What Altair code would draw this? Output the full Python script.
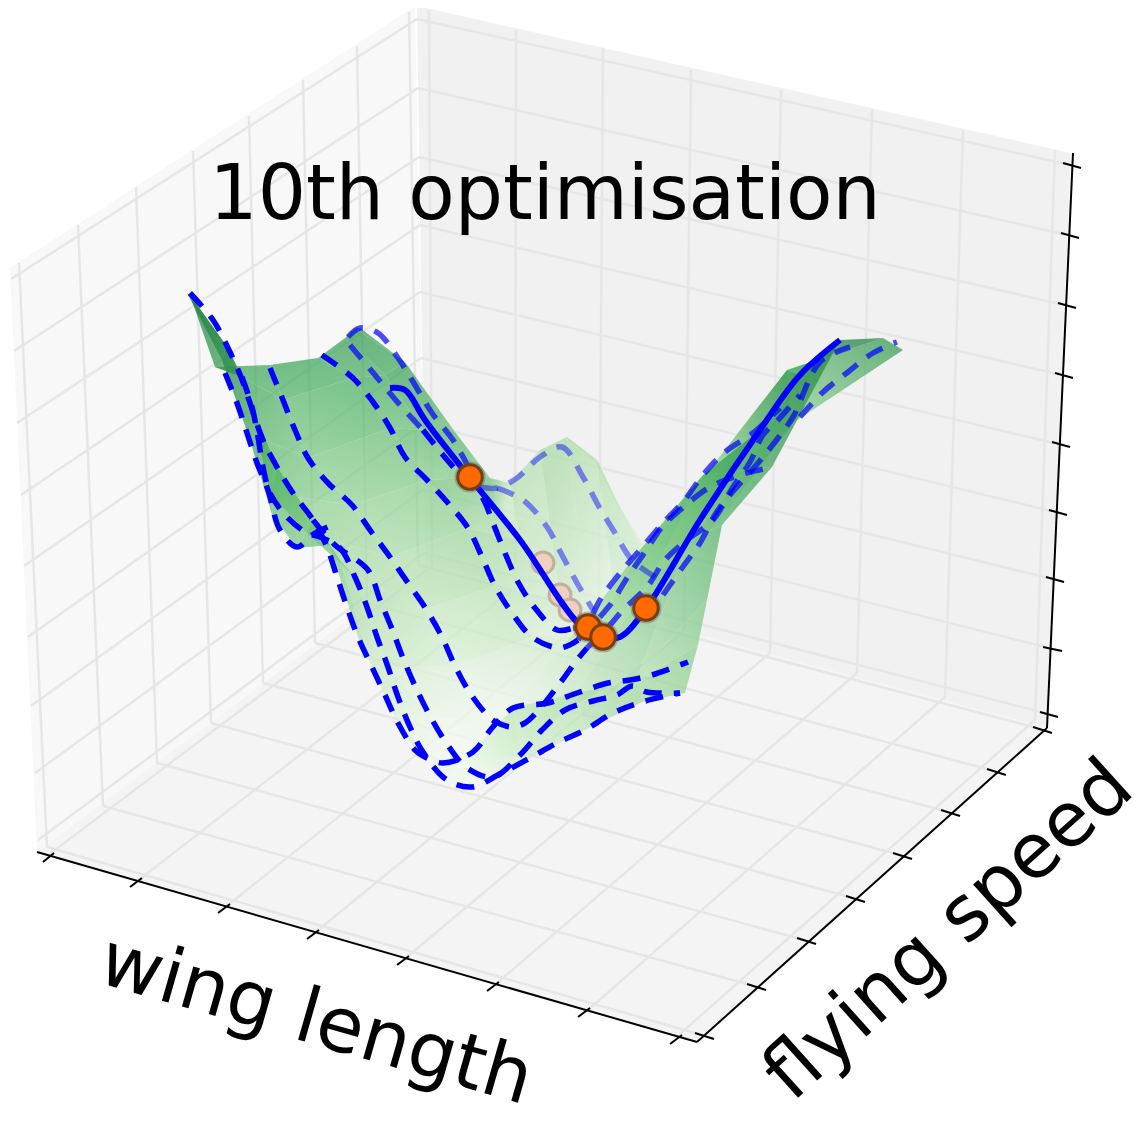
import altair as alt
import pandas as pd
import numpy as np

# ---- values (all in picture pixels) ----
left_pane = [(10,268),(415,6),(425,562),(37,852)]
back_pane = [(417,6),(1071,153),(1047,728),(425,562)]
floor_pane = [(37,852),(425,562),(1047,728),(697,1042)]

left_top = [(19,263),(78,225),(136,187),(193,151),(249,116),(303,80),(357,46),(409,12)]
left_bot = [(47,847),(103,806),(157,763),(211,723),(263,683),(315,643),(367,603),(418,565)]
left_zfront = [(11,279),(14,351),(17,423),(21,495),(24,566),(28,637),(31,706),(35,773),(38,840)]
corner_z = [(417,19),(418,88),(419,157),(420,225),(420,292),(421,358),(422,424),(423,490),(424,553)]
back_top = [(429,10),(516,30),(603,48),(691,70),(781,90),(872,110),(963,130),(1055,150)]
back_bot = [(432,566),(515,588),(599,609),(684,631),(770,653),(857,673),(945,697),(1035,720)]
right_z = [(1066,164),(1063,234),(1060,304),(1057,374),(1054,443),(1051,511),(1048,578),(1045,647),(1041,712)]
front_in = [(51,853),(140,879),(228,905),(317,931),(407,957),(497,983),(588,1010),(680,1034)]
right_in = [(1033,727),(987,769),(941,810),(893,853),(846,896),(797,938),(747,984),(695,1033)]

axis_lines = [[(37,852),(697,1042)],[(697,1042),(1047,728)],[(1047,728),(1073,153)]]
x_ticks_out = [(43,862),(130,887),(218,913),(307,939),(397,965),(487,991),(578,1017),(670,1044)]
x_ticks_in = [(54,853),(142,878),(230,904),(319,930),(409,956),(499,982),(590,1008),(682,1035)]
y_ticks_in = [(1033,727),(987,769),(941,810),(893,853),(846,896),(797,938),(747,984),(695,1033)]
y_ticks_out = [(1052,733),(1006,775),(960,816),(912,859),(865,902),(816,944),(766,990),(714,1039)]
z_ticks_in = [(1063,163),(1061,233),(1058,303),(1055,373),(1052,442),(1049,510),(1046,577),(1043,647),(1040,712)]
z_ticks_out = [(1081,168),(1079,238),(1076,308),(1073,378),(1070,447),(1067,515),(1064,582),(1062,651),(1058,717)]

surface_rows = [
 [(187,293),(222,360),(250,440),(272,515),(297,548),(330,545),(358,637),(398,723),(463,790),(530,758),(585,730),(642,702),(685,693)],
 [(190,295),(228,348),(250,403),(277,467),(313,520),(340,560),(372,667),(415,750),(460,765),(513,708),(577,693),(640,680),(698,645)],
 [(215,367),(242,377),(258,437),(270,493),(307,533),(355,577),(388,667),(430,716),(467,768),(520,755),(565,710),(640,670),(707,600)],
 [(270,365),(283,400),(308,458),(352,505),(390,557),(426,609),(455,666),(498,723),(537,712),(587,648),(647,587),(690,540),(722,525)],
 [(318,358),(353,378),(390,428),(427,480),(468,528),(495,586),(532,637),(560,648),(590,615),(640,550),(703,475),(745,470),(772,467)],
 [(345,338),(385,375),(423,430),(470,478),(520,540),(560,600),(590,632),(620,637),(660,585),(700,520),(760,430),(800,375),(840,340)],
 [(355,328),(405,362),(455,432),(490,478),(510,483),(540,450),(567,437),(597,460),(620,507),(645,548),(707,473),(787,370),(883,338)],
 [(360,328),(405,362),(455,432),(490,478),(510,483),(540,450),(567,437),(597,465),(625,520),(660,575),(720,520),(793,423),(903,350)],
]
row_floor = [740,710,680,650,620,560,480,443]
left_boost = [0,0,0,0,0,60,150,150]

dashed_front = [
 [(190,293),(213,320),(228,348),(241,377),(250,403),(263,440),(277,467),(293,493),(313,520),(327,547),(337,577),(347,607),(358,637),(372,667),(385,695),(398,723),(415,750),(425,757),(443,763),(473,752),(492,728),(513,708),(548,703),(577,693),(608,683),(630,680),(652,675),(688,662)],
 [(225,373),(237,403),(247,433),(257,463),(268,490),(280,530),(297,547),(312,535),(330,526)],
 [(242,377),(252,407),(258,437),(263,467),(270,493),(287,517),(307,533),(320,537),(340,548),(355,577),(367,607),(377,637),(388,667),(398,697),(410,727),(423,752),(447,780),(472,787),(498,775),(530,758),(557,743),(585,730),(613,713),(642,702),(680,693)],
 [(313,520),(335,545),(368,570),(380,600),(392,629),(403,658),(416,688),(430,716),(447,744),(467,768),(493,777),(520,755),(542,730),(565,710),(593,701),(617,695),(632,686),(647,692),(680,693)],
 [(270,368),(283,400),(295,430),(308,458),(328,483),(352,505),(370,530),(390,557),(408,583),(426,609),(442,637),(455,666),(470,693),(490,718),(498,723),(512,727),(525,723),(537,712),(560,683),(577,660),(587,648)],
 [(322,355),(353,378),(373,402),(390,428),(405,457),(427,480),(448,503),(468,528),(482,557),(495,586),(512,613),(532,637),(560,648),(578,640)],
 [(423,430),(443,455),(465,480),(482,497),(493,523),(505,553),(518,582),(535,608),(557,630),(573,628)],
]
dashed_mid = [
 [(348,337),(360,328),(378,333),(398,358),(415,385),(432,413),(453,440),(470,470)],
 [(350,345),(375,375),(400,405),(423,430)],
 [(578,640),(590,620),(600,600),(620,573),(640,550),(663,523),(683,502),(703,475),(725,452),(753,433),(780,408)],
 [(573,628),(590,625),(610,605),(627,578),(645,552),(662,527),(680,510),(710,487),(740,475),(772,467)],
 [(587,648),(610,625),(623,610),(647,587),(665,560),(687,540),(713,520),(733,487),(750,462),(763,435),(778,420),(800,395)],
 [(663,595),(682,568),(700,543),(718,510),(758,463),(778,438),(793,417),(820,362),(850,347)],
 [(800,417),(822,393),(848,372),(873,353),(897,342)],
]
dashed_faint = [
 [(480,487),(497,488),(517,478),(540,457),(562,447),(583,477),(598,505),(615,533),(632,560),(655,577)],
 [(497,488),(523,500),(547,527),(562,555),(577,583),(593,610)],
]
solid_line = [(390,388),(405,390),(425,420),(470,478),(520,540),(580,625),(603,637),(620,637),(645,610),(700,520),(760,430),(800,375),(840,340)]
points_xy = [(470,477),(588,627),(603,637),(646,608)]
faint_points_xy = [(543,563),(560,595),(570,610)]

title_text = "10th optimisation"
xlabel_text = "wing length"
ylabel_text = "flying speed"

# ---- helpers ----
X = alt.X("x:Q", scale=alt.Scale(domain=[8,1137]), axis=None)
Y = alt.Y("y:Q", scale=alt.Scale(domain=[1122,8]), axis=None)

def lines_df(lines):
    recs=[]
    for i,l in enumerate(lines):
        for k,(a,b) in enumerate(l):
            recs.append({"id":i,"k":k,"x":a,"y":b})
    return pd.DataFrame(recs)

def line_layer(lines, **kw):
    return alt.Chart(lines_df(lines)).mark_line(**kw).encode(x=X,y=Y,detail="id:N",order="k:Q")

def poly_layer(poly, color):
    return alt.Chart(lines_df([poly])).mark_line(fill=color, strokeWidth=0).encode(x=X,y=Y,detail="id:N",order="k:Q")

def pts(xy):
    return pd.DataFrame({"x":[p[0] for p in xy],"y":[p[1] for p in xy]})

# grid
grid = (
 [list(p) for p in zip(left_top,left_bot)] +
 [list(p) for p in zip(left_zfront,corner_z)] +
 [list(p) for p in zip(corner_z,right_z)] +
 [list(p) for p in zip(back_top,back_bot)] +
 [list(p) for p in zip(back_bot,front_in)] +
 [list(p) for p in zip(left_bot,right_in[::-1])]
)

# surface cells, shaded by height above the floor
stops_l = [60,150,250,350,480]
stops_c = np.array([[247,252,245],[199,233,192],[143,209,143],[65,171,93],[27,122,61]],float)
def level_color(m):
    col=[np.interp(m,stops_l,stops_c[:,n]) for n in range(3)]
    return "#%02x%02x%02x"%tuple(int(v) for v in col)
recs=[]
cid=0
nr=len(surface_rows); nc=len(surface_rows[0])
for r in range(nr-2,-1,-1):
    for c in range(nc-1):
        idx=[(r,c),(r,c+1),(r+1,c+1),(r+1,c)]
        q=[surface_rows[i][j] for i,j in idx]
        lev=[row_floor[i]+(left_boost[i] if j<=3 else 0)+0.28*surface_rows[i][j][0]-surface_rows[i][j][1] for i,j in idx]
        xs=[p[0] for p in q]; ys=[p[1] for p in q]
        w=max(max(xs)-min(xs),1); h=max(max(ys)-min(ys),1)
        lo=int(np.argmin(lev)); hi=int(np.argmax(lev))
        g={"gradient":"linear",
           "x1":(xs[lo]-min(xs))/w,"y1":(ys[lo]-min(ys))/h,
           "x2":(xs[hi]-min(xs))/w,"y2":(ys[hi]-min(ys))/h,
           "stops":[{"offset":0,"color":level_color(lev[lo])},{"offset":1,"color":level_color(lev[hi])}]}
        for k,(a,b) in enumerate(q):
            recs.append({"id":cid,"k":k,"x":a,"y":b,"g":g})
        cid+=1
cells=pd.DataFrame(recs)
surface=alt.Chart(cells).mark_line(fillOpacity=0.72,strokeWidth=0).encode(
    x=X,y=Y,detail="id:N",order="k:Q",fill=alt.Fill("g:N",scale=None,legend=None))

dash=dict(color="#0000ff",strokeWidth=5.5,strokeDash=[18,12],interpolate="catmull-rom")
text=dict(font="DejaVu Sans",fontSize=76,color="#000",align="center",baseline="middle")
layers=[
 poly_layer(left_pane,"#f8f8f8"),
 poly_layer(back_pane,"#f1f1f1"),
 poly_layer(floor_pane,"#f4f4f4"),
 line_layer(grid,color="#e6e6e6",strokeWidth=2.5),
 surface,
 line_layer(dashed_front,**dash),
 line_layer(dashed_mid,opacity=0.7,**dash),
 line_layer(dashed_faint,opacity=0.45,**dash),
 alt.Chart(pts(faint_points_xy)).mark_point(filled=True,size=480,fill="#f0d0c0",stroke="#c0b0a0",strokeWidth=3,opacity=1).encode(x=X,y=Y),
 line_layer([solid_line],color="#0000ff",strokeWidth=6,interpolate="catmull-rom"),
 alt.Chart(pts(points_xy)).mark_point(filled=True,size=960,color="#555555",opacity=0.35).encode(x=X,y=Y),
 alt.Chart(pts(points_xy)).mark_point(filled=True,size=600,fill="#ff6a00",stroke="#7a3d10",strokeWidth=3,opacity=1).encode(x=X,y=Y),
 line_layer(axis_lines,color="#000000",strokeWidth=2),
 line_layer([list(p) for p in zip(x_ticks_in,x_ticks_out)]+[list(p) for p in zip(y_ticks_in,y_ticks_out)]+[list(p) for p in zip(z_ticks_in,z_ticks_out)],color="#000000",strokeWidth=2),
 alt.Chart(pd.DataFrame({"x":[545],"y":[196],"t":[title_text]})).mark_text(**text).encode(x=X,y=Y,text="t:N"),
 alt.Chart(pd.DataFrame({"x":[316],"y":[1021],"t":[xlabel_text]})).mark_text(angle=16,**text).encode(x=X,y=Y,text="t:N"),
 alt.Chart(pd.DataFrame({"x":[949],"y":[931],"t":[ylabel_text]})).mark_text(angle=318,**text).encode(x=X,y=Y,text="t:N"),
]
chart=alt.layer(*layers).properties(width=1129,height=1114,padding=0,autosize=alt.AutoSizeParams(type="none")).configure_view(stroke=None)
chart.save("out.html", embed_options={"renderer":"svg","actions":False})
